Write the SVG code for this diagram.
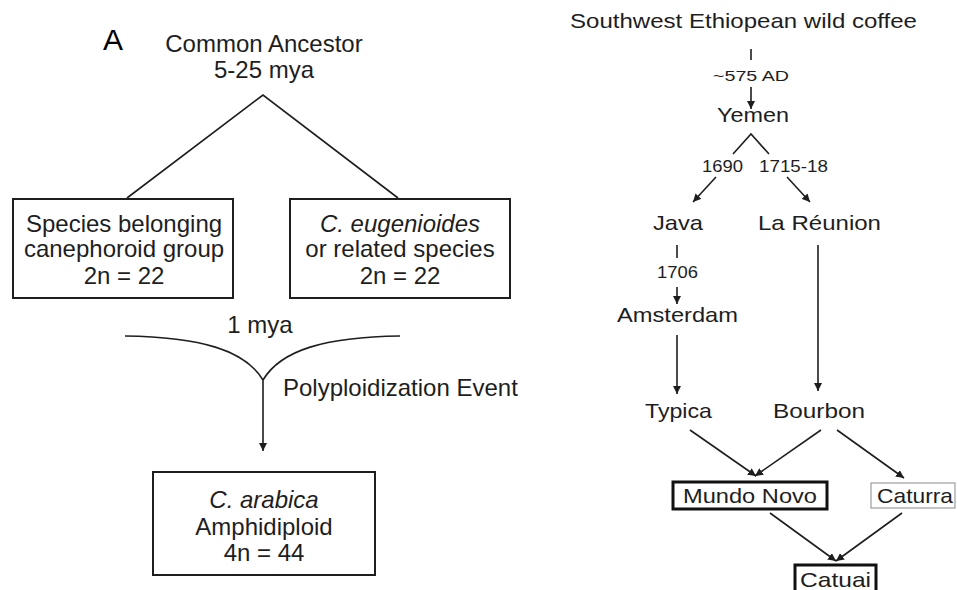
<svg xmlns="http://www.w3.org/2000/svg" width="957" height="590" viewBox="0 0 957 590">
<style>
text{font-family:"Liberation Sans",Arial,sans-serif;fill:#1e1e1e}
.l{font-size:24px;text-anchor:middle}
.r{font-size:21px}
.s{font-size:15px}
.box{fill:#fff;stroke:#1e1e1e;stroke-width:2}
.tb{fill:#fff;stroke:#111;stroke-width:3}
.ln{fill:none;stroke:#1e1e1e;stroke-width:1.6}
</style>
<defs>
<marker id="ah" viewBox="0 0 10 10" refX="10" refY="5" markerWidth="8" markerHeight="8" markerUnits="userSpaceOnUse" orient="auto">
<path d="M0,0 L10,5 L0,10 z" fill="#1e1e1e"/>
</marker>
</defs>
<rect width="957" height="590" fill="#fff"/>
<text x="103" y="50" style="font-family:'Liberation Sans',Arial,sans-serif;font-size:30px;fill:#000">A</text>

<g id="ancestor">
<text class="l" x="264" y="52">Common Ancestor</text>
<text class="l" x="264" y="78">5-25 mya</text>
</g>
<g id="canephoroid">
<rect class="box" x="13" y="199" width="220" height="99"/>
<text class="l" x="124" y="232">Species belonging</text>
<text class="l" x="124" y="257">canephoroid group</text>
<text class="l" x="124" y="284">2n = 22</text>
</g>
<g id="eugenioides">
<rect class="box" x="290" y="199" width="220" height="99"/>
<text class="l" x="400" y="232"><tspan font-style="italic">C. eugenioides</tspan></text>
<text class="l" x="400" y="257">or related species</text>
<text class="l" x="400" y="284">2n = 22</text>
</g>
<g id="arabica">
<rect class="box" x="153" y="472" width="222" height="103"/>
<text class="l" x="264" y="508" font-style="italic">C. arabica</text>
<text class="l" x="264" y="535">Amphidiploid</text>
<text class="l" x="264" y="561">4n = 44</text>
</g>

<g id="ethiopia"><text class="r" x="570" y="28" textLength="347" lengthAdjust="spacingAndGlyphs">Southwest Ethiopean wild coffee</text></g>
<g id="yemen"><text class="r" x="717" y="122" textLength="72" lengthAdjust="spacingAndGlyphs">Yemen</text></g>
<g id="java"><text class="r" x="653" y="230" textLength="50" lengthAdjust="spacingAndGlyphs">Java</text></g>
<g id="reunion"><text class="r" x="758" y="230" textLength="123" lengthAdjust="spacingAndGlyphs">La Réunion</text></g>
<g id="amsterdam"><text class="r" x="617" y="322" textLength="121" lengthAdjust="spacingAndGlyphs">Amsterdam</text></g>
<g id="typica"><text class="r" x="645" y="418" textLength="67" lengthAdjust="spacingAndGlyphs">Typica</text></g>
<g id="bourbon"><text class="r" x="773" y="418" textLength="92" lengthAdjust="spacingAndGlyphs">Bourbon</text></g>
<g id="mundonovo">
<rect class="tb" x="673" y="482" width="154" height="27"/>
<text class="r" x="683" y="503" textLength="134" lengthAdjust="spacingAndGlyphs">Mundo Novo</text>
</g>
<g id="caturra">
<rect x="871" y="483" width="84" height="25" fill="#fff" stroke="#8a8a8a" stroke-width="1"/>
<text class="r" x="877" y="503" textLength="76" lengthAdjust="spacingAndGlyphs">Caturra</text>
</g>
<g id="catuai">
<rect class="tb" x="795" y="565" width="81" height="30"/>
<text class="r" x="800" y="587" textLength="71" lengthAdjust="spacingAndGlyphs">Catuai</text>
</g>

<g id="connectors">
<path class="ln" d="M127,198 L263,95 L398,198"/>
<path class="ln" d="M125,336 C200,337 245,350 263,380 M400,336 C325,337 281,350 263,380"/>
<path class="ln" d="M263,380 L263,451" marker-end="url(#ah)"/>
<text class="l" x="260" y="333">1 mya</text>
<text x="283" y="396" style="font-size:24px">Polyploidization Event</text>

<path class="ln" d="M751,49 L751,60"/>
<text class="s" x="713" y="81" textLength="76" lengthAdjust="spacingAndGlyphs">~575 AD</text>
<path class="ln" d="M751,87 L751,109" marker-end="url(#ah)"/>
<path class="ln" d="M733,154 L751,134 L769,154"/>
<text class="s" x="702" y="172" textLength="41" lengthAdjust="spacingAndGlyphs" style="font-size:17px">1690</text>
<text class="s" x="759" y="172" textLength="69" lengthAdjust="spacingAndGlyphs" style="font-size:17px">1715-18</text>
<path class="ln" d="M716,177 L693,202" marker-end="url(#ah)"/>
<path class="ln" d="M787,177 L810,202" marker-end="url(#ah)"/>
<path class="ln" d="M677,245 L677,258"/>
<text class="s" x="657" y="278" textLength="41" lengthAdjust="spacingAndGlyphs" style="font-size:17px">1706</text>
<path class="ln" d="M677,287 L677,304" marker-end="url(#ah)"/>
<path class="ln" d="M818,245 L818,391" marker-end="url(#ah)"/>
<path class="ln" d="M677,335 L677,394" marker-end="url(#ah)"/>
<path class="ln" d="M690,430 L756,476" marker-end="url(#ah)"/>
<path class="ln" d="M821,430 L755,476" marker-end="url(#ah)"/>
<path class="ln" d="M837,430 L904,478" marker-end="url(#ah)"/>
<path class="ln" d="M770,513 L836,561" marker-end="url(#ah)"/>
<path class="ln" d="M902,513 L836,561" marker-end="url(#ah)"/>
</g>
</svg>
